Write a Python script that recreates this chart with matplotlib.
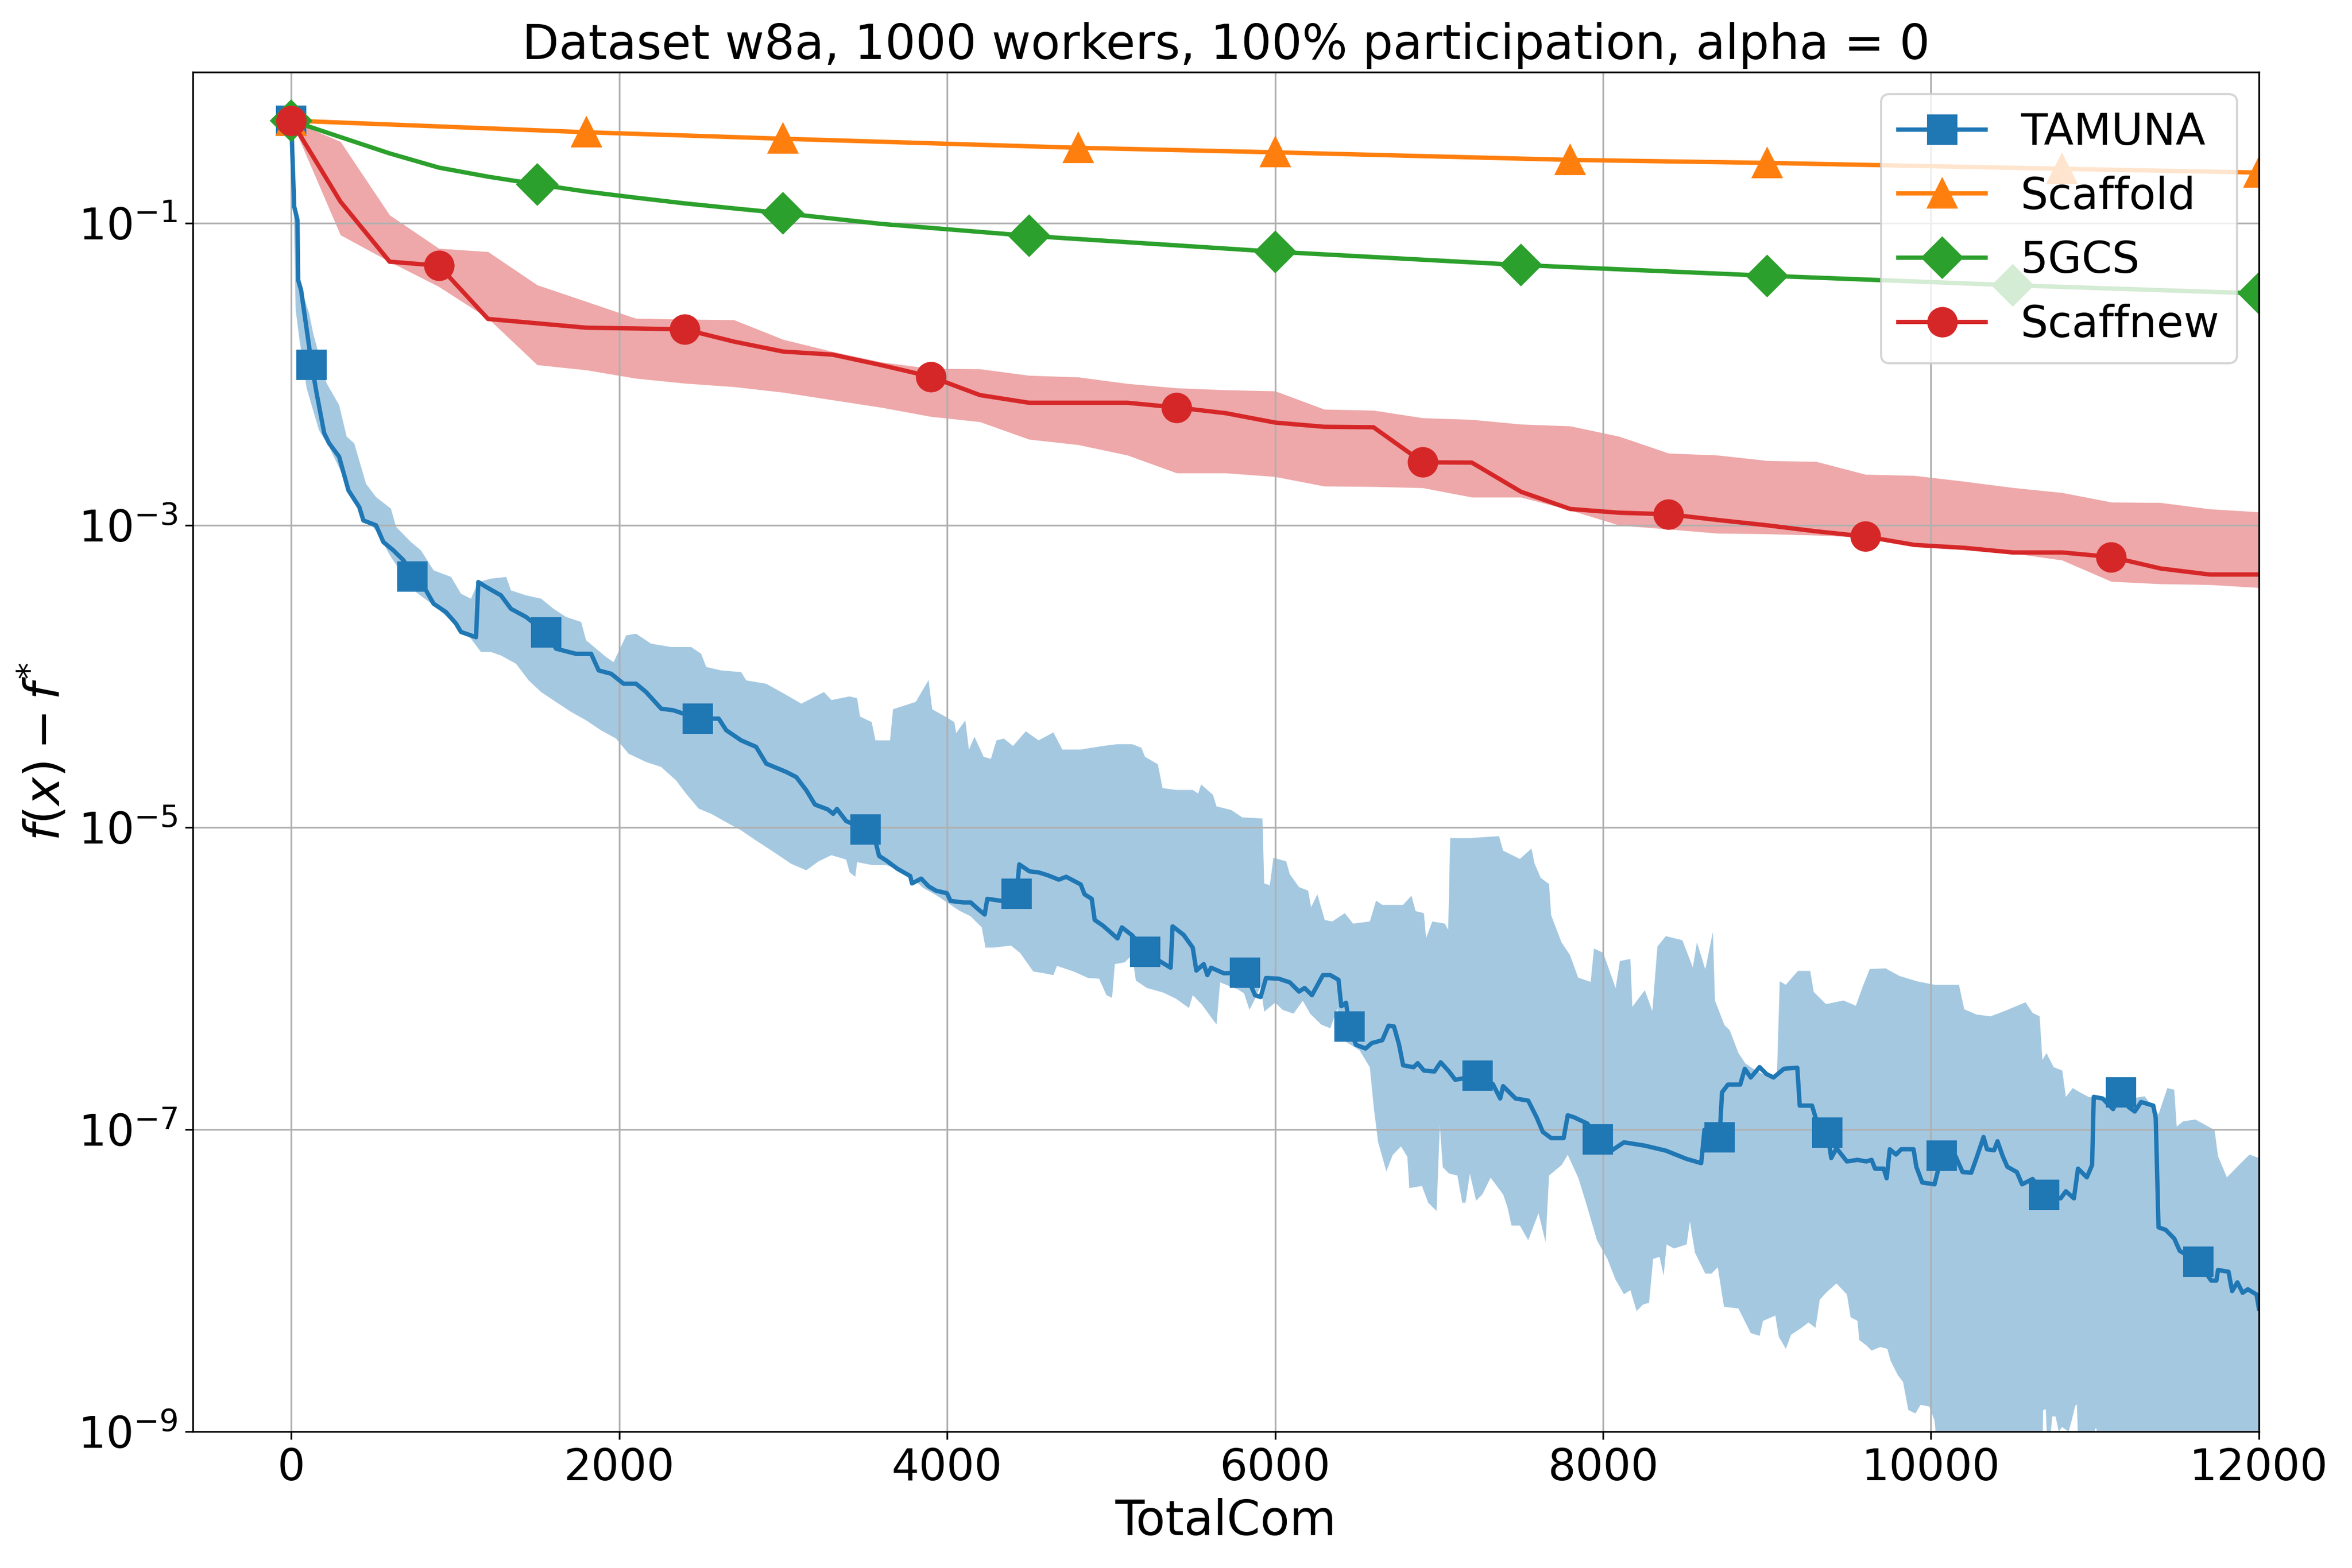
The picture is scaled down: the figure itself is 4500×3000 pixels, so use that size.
import numpy as np
import matplotlib
matplotlib.use("Agg")
import matplotlib.pyplot as plt
from matplotlib.ticker import NullLocator

# ---------------- data (y values stored as log10 of f(x)-f*) ----------------
title = "Dataset w8a, 1000 workers, 100% participation, alpha = 0"
xlabel = "TotalCom"
ylabel = r"$f(x) - f^{*}$"
labels = ["TAMUNA", "Scaffold", "5GCS", "Scaffnew"]
ytick_vals = [1e-9, 1e-7, 1e-5, 1e-3, 1e-1]

# TAMUNA mean curve (x, log10 value)
tamuna_mean_pts = [
    (0, -0.321), (18, -0.89), (38, -0.979), (42, -1.376), (60, -1.443), (125, -1.938),
    (155, -2.127), (201, -2.39), (231, -2.457), (292, -2.546), (349, -2.769), (415, -2.88),
    (440, -2.968), (517, -3.0), (562, -3.111), (623, -3.166), (685, -3.232), (740, -3.338),
    (822, -3.431), (868, -3.519), (944, -3.575), (1005, -3.651), (1035, -3.706), (1127, -3.741),
    (1141, -3.376), (1188, -3.408), (1279, -3.464), (1340, -3.553), (1432, -3.607), (1554, -3.711),
    (1615, -3.817), (1737, -3.851), (1829, -3.851), (1875, -3.961), (1951, -3.983), (2027, -4.049),
    (2103, -4.049), (2164, -4.104), (2256, -4.214), (2332, -4.225), (2479, -4.28), (2607, -4.28),
    (2653, -4.357), (2744, -4.424), (2835, -4.467), (2897, -4.578), (3019, -4.633), (3080, -4.667),
    (3141, -4.754), (3194, -4.849), (3272, -4.881), (3305, -4.91), (3328, -4.878), (3384, -4.958),
    (3501, -5.013), (3563, -5.092), (3585, -5.189), (3630, -5.22), (3697, -5.274), (3775, -5.322),
    (3786, -5.371), (3842, -5.339), (3887, -5.39), (3932, -5.419), (3999, -5.436), (4021, -5.487),
    (4100, -5.497), (4144, -5.497), (4189, -5.541), (4229, -5.577), (4245, -5.473), (4334, -5.487),
    (4424, -5.44), (4440, -5.245), (4502, -5.291), (4558, -5.298), (4614, -5.317), (4681, -5.346),
    (4726, -5.327), (4815, -5.378), (4838, -5.443), (4882, -5.473), (4900, -5.613), (4950, -5.65),
    (5039, -5.735), (5066, -5.662), (5129, -5.715), (5207, -5.825), (5308, -5.893), (5363, -5.929),
    (5375, -5.655), (5442, -5.711), (5498, -5.796), (5520, -5.948), (5565, -5.905), (5587, -5.978),
    (5610, -5.929), (5688, -5.966), (5818, -5.961), (5878, -6.111), (5912, -6.123), (5945, -5.997),
    (6023, -6.002), (6090, -6.026), (6146, -6.087), (6180, -6.063), (6225, -6.111), (6292, -5.978),
    (6337, -5.978), (6387, -6.009), (6404, -6.184), (6433, -6.161), (6453, -6.318), (6493, -6.439),
    (6552, -6.464), (6590, -6.428), (6654, -6.409), (6692, -6.313), (6725, -6.318), (6756, -6.437),
    (6781, -6.575), (6845, -6.588), (6870, -6.561), (6908, -6.61), (6972, -6.616), (7010, -6.555),
    (7061, -6.616), (7099, -6.671), (7236, -6.644), (7328, -6.699), (7373, -6.795), (7391, -6.713),
    (7467, -6.795), (7544, -6.809), (7595, -6.919), (7633, -7.016), (7684, -7.057), (7760, -7.057),
    (7785, -6.906), (7823, -6.919), (7905, -6.961), (7968, -7.066), (8052, -7.14), (8128, -7.085),
    (8255, -7.107), (8383, -7.14), (8510, -7.195), (8599, -7.223), (8619, -7.002), (8711, -7.052),
    (8726, -6.754), (8762, -6.703), (8837, -6.703), (8865, -6.598), (8901, -6.656), (8955, -6.587),
    (8997, -6.633), (9040, -6.656), (9104, -6.598), (9185, -6.591), (9200, -6.842), (9275, -6.842),
    (9300, -6.934), (9369, -7.02), (9392, -7.189), (9424, -7.124), (9488, -7.212), (9552, -7.201),
    (9606, -7.212), (9638, -7.201), (9659, -7.259), (9712, -7.259), (9730, -7.323), (9749, -7.131),
    (9787, -7.166), (9819, -7.131), (9894, -7.131), (9911, -7.247), (9947, -7.351), (10022, -7.363),
    (10066, -7.173), (10150, -7.177), (10193, -7.282), (10246, -7.286), (10278, -7.189), (10321, -7.05),
    (10342, -7.131), (10385, -7.138), (10406, -7.078), (10438, -7.177), (10466, -7.247), (10524, -7.282),
    (10556, -7.363), (10620, -7.328), (10692, -7.432), (10791, -7.456), (10823, -7.409), (10872, -7.456),
    (10897, -7.259), (10951, -7.317), (10983, -7.235), (10993, -6.784), (11047, -6.795), (11111, -6.865),
    (11160, -6.756), (11207, -6.853), (11243, -6.881), (11282, -6.818), (11356, -6.842), (11371, -6.923),
    (11388, -7.648), (11431, -7.664), (11484, -7.722), (11517, -7.803), (11630, -7.877), (11709, -8.0),
    (11741, -8.0), (11751, -7.93), (11815, -7.942), (11837, -8.07), (11869, -8.012), (11901, -8.081),
    (11933, -8.058), (11986, -8.093), (12000, -8.185),
]
tamuna_marker_x = [0, 125, 740, 1554, 2479, 3501, 4424, 5207, 5818, 6453, 7236, 7968,
                   8711, 9369, 10066, 10692, 11160, 11630]

# TAMUNA upper edge of the band
tamuna_upper_pts = [
    (0, -0.321), (20, -0.88), (40, -0.97), (50, -1.38), (80, -1.5), (109, -1.597), (134, -1.73),
    (216, -2.06), (292, -2.204), (338, -2.413), (384, -2.457), (456, -2.725), (517, -2.813),
    (608, -2.89), (639, -3.01), (730, -3.111), (791, -3.166), (868, -3.298), (975, -3.342),
    (1035, -3.453), (1096, -3.486), (1141, -3.376), (1218, -3.353), (1311, -3.342), (1340, -3.431),
    (1432, -3.464), (1524, -3.486), (1600, -3.553), (1676, -3.607), (1768, -3.64), (1798, -3.761),
    (1920, -3.872), (1966, -3.906), (2043, -3.729), (2103, -3.718), (2195, -3.784), (2317, -3.806),
    (2439, -3.806), (2500, -3.851), (2531, -3.938), (2622, -3.961), (2744, -3.972), (2775, -4.027),
    (2896, -4.049), (2988, -4.104), (3111, -4.181), (3249, -4.104), (3294, -4.157), (3406, -4.133),
    (3451, -4.145), (3469, -4.266), (3540, -4.303), (3563, -4.424), (3652, -4.424), (3670, -4.218),
    (3809, -4.169), (3887, -4.024), (3909, -4.218), (3988, -4.266), (4044, -4.303), (4055, -4.376),
    (4111, -4.291), (4133, -4.485), (4167, -4.4), (4223, -4.533), (4267, -4.546), (4301, -4.424),
    (4346, -4.412), (4402, -4.461), (4480, -4.364), (4558, -4.424), (4648, -4.371), (4703, -4.485),
    (4815, -4.485), (4882, -4.473), (4950, -4.461), (5039, -4.449), (5129, -4.449), (5185, -4.473),
    (5207, -4.533), (5285, -4.582), (5314, -4.74), (5397, -4.752), (5498, -4.752), (5531, -4.776),
    (5549, -4.716), (5621, -4.784), (5643, -4.861), (5733, -4.885), (5800, -4.934), (5923, -4.941),
    (5934, -5.371), (5968, -5.383), (5990, -5.201), (6068, -5.225), (6090, -5.31), (6146, -5.395),
    (6202, -5.419), (6220, -5.529), (6258, -5.443), (6303, -5.613), (6349, -5.623), (6425, -5.568),
    (6476, -5.637), (6578, -5.623), (6616, -5.485), (6654, -5.513), (6781, -5.513), (6832, -5.452),
    (6857, -5.554), (6908, -5.568), (6921, -5.733), (6959, -5.623), (7035, -5.637), (7056, -5.678),
    (7068, -5.071), (7188, -5.071), (7366, -5.058), (7391, -5.154), (7493, -5.209), (7564, -5.14),
    (7582, -5.237), (7620, -5.334), (7671, -5.375), (7684, -5.582), (7747, -5.761), (7798, -5.844),
    (7849, -5.995), (7925, -6.023), (7945, -5.802), (8001, -5.83), (8077, -6.064), (8103, -5.885),
    (8167, -5.871), (8179, -6.188), (8255, -6.078), (8301, -6.216), (8332, -5.789), (8383, -5.72),
    (8484, -5.747), (8548, -5.927), (8573, -5.761), (8624, -5.94), (8670, -5.692), (8683, -6.147),
    (8741, -6.309), (8773, -6.343), (8826, -6.494), (8869, -6.564), (8933, -6.61), (8997, -6.645),
    (9061, -6.633), (9078, -6.019), (9115, -6.042), (9189, -5.95), (9264, -5.95), (9285, -6.089),
    (9360, -6.17), (9467, -6.146), (9542, -6.181), (9584, -6.054), (9627, -5.938), (9723, -5.933),
    (9809, -5.984), (9915, -6.019), (10022, -6.042), (10171, -6.042), (10203, -6.204), (10278, -6.239),
    (10364, -6.251), (10449, -6.216), (10577, -6.158), (10620, -6.228), (10663, -6.251), (10680, -6.54),
    (10705, -6.494), (10748, -6.587), (10801, -6.61), (10823, -6.784), (10865, -6.726), (10919, -6.76),
    (10961, -6.784), (11036, -6.8), (11143, -6.75), (11196, -6.8), (11303, -6.78), (11388, -6.9),
    (11442, -6.726), (11484, -6.737), (11499, -6.981), (11538, -6.946), (11613, -6.934), (11730, -7.004),
    (11751, -7.177), (11805, -7.317), (11879, -7.235), (11943, -7.166), (12000, -7.189),
]

# TAMUNA lower edge of the band (-9.3 = below the axis floor)
tamuna_lower_pts = [
    (0, -0.321), (15, -0.9), (27, -1.575), (48, -1.752), (94, -2.093), (169, -2.37), (231, -2.48),
    (308, -2.656), (395, -2.835), (415, -2.92), (517, -3.034), (608, -3.21), (746, -3.431),
    (883, -3.541), (1005, -3.663), (1096, -3.751), (1157, -3.839), (1218, -3.839), (1279, -3.862),
    (1371, -3.917), (1448, -4.027), (1524, -4.104), (1615, -4.17), (1706, -4.235), (1798, -4.291),
    (1890, -4.358), (1981, -4.412), (2057, -4.512), (2164, -4.567), (2256, -4.6), (2347, -4.689),
    (2408, -4.777), (2485, -4.876), (2561, -4.91), (2653, -4.966), (2744, -5.02), (2835, -5.087),
    (2927, -5.152), (3049, -5.241), (3141, -5.284), (3216, -5.225), (3294, -5.184), (3384, -5.213),
    (3406, -5.298), (3440, -5.327), (3451, -5.23), (3540, -5.249), (3630, -5.25), (3751, -5.30),
    (3853, -5.40), (3935, -5.45), (4077, -5.553), (4144, -5.589), (4211, -5.662), (4234, -5.796),
    (4279, -5.796), (4390, -5.783), (4446, -5.832), (4525, -5.954), (4592, -5.966), (4648, -5.978),
    (4670, -5.917), (4771, -5.954), (4860, -5.997), (4927, -6.002), (4972, -6.111), (5006, -6.128),
    (5023, -5.905), (5084, -5.893), (5129, -5.844), (5151, -6.014), (5218, -6.063), (5319, -6.094),
    (5397, -6.135), (5475, -6.196), (5498, -6.111), (5553, -6.172), (5610, -6.257), (5643, -6.305),
    (5665, -6.026), (5777, -6.075), (5811, -6.099), (5844, -6.208), (5878, -6.135), (5912, -6.051),
    (5934, -6.22), (6001, -6.16), (6046, -6.208), (6113, -6.233), (6169, -6.147), (6214, -6.233),
    (6281, -6.305), (6337, -6.33), (6381, -6.196), (6404, -6.402), (6515, -6.475), (6578, -6.588),
    (6603, -6.864), (6629, -7.085), (6679, -7.278), (6718, -7.168), (6768, -7.112), (6807, -7.181),
    (6819, -7.388), (6896, -7.374), (6934, -7.485), (6985, -7.54), (7005, -6.974), (7023, -7.25),
    (7061, -7.292), (7112, -7.305), (7142, -7.485), (7162, -7.485), (7188, -7.292), (7226, -7.471),
    (7264, -7.43), (7315, -7.319), (7391, -7.43), (7417, -7.512), (7442, -7.636), (7493, -7.636),
    (7544, -7.733), (7607, -7.554), (7650, -7.747), (7671, -7.305), (7747, -7.236), (7785, -7.168),
    (7849, -7.319), (7900, -7.498), (7963, -7.733), (8027, -7.857), (8077, -7.995), (8128, -8.091),
    (8167, -8.064), (8205, -8.202), (8243, -8.16), (8281, -8.147), (8306, -7.857), (8345, -7.843),
    (8370, -7.968), (8388, -7.761), (8433, -7.788), (8510, -7.761), (8530, -7.609), (8561, -7.816),
    (8624, -7.954), (8662, -7.954), (8700, -7.912), (8738, -8.174), (8826, -8.185), (8869, -8.278),
    (8901, -8.348), (8955, -8.366), (8976, -8.267), (9051, -8.232), (9072, -8.371), (9115, -8.452),
    (9147, -8.359), (9211, -8.313), (9253, -8.278), (9296, -8.313), (9322, -8.127), (9360, -8.081),
    (9424, -8.019), (9488, -8.093), (9510, -8.243), (9552, -8.267), (9563, -8.394), (9606, -8.429),
    (9638, -8.464), (9691, -8.44), (9734, -8.452), (9755, -8.533), (9798, -8.626), (9830, -8.672),
    (9862, -8.857), (9905, -8.88), (9937, -8.823), (9990, -8.834), (10022, -8.927), (10054, -9.3),
    (10680, -9.3), (10684, -8.86), (10700, -8.85), (10715, -9.2), (10740, -8.90), (10760, -8.90),
    (10780, -9.0), (10800, -8.97), (10840, -9.0), (10860, -8.92), (10880, -8.83), (10890, -8.82),
    (10905, -9.3), (10990, -9.3), (11000, -8.98), (11010, -8.98), (11020, -9.3), (12000, -9.3),
]

# Scaffold
scaffold_x = [0, 1800, 3000, 4800, 6000, 7800, 9000, 10800, 12000]
scaffold_log10 = [-0.321, -0.398, -0.441, -0.501, -0.531, -0.581, -0.601, -0.64, -0.665]

# 5GCS
gcs_x = [0, 300, 600, 900, 1200, 1500, 1800, 2100, 2400, 2700, 3000, 3600, 4500, 6000,
         7500, 9000, 10500, 12000]
gcs_log10 = [-0.321, -0.43, -0.538, -0.632, -0.692, -0.743, -0.791, -0.831, -0.869, -0.902,
             -0.934, -1.005, -1.084, -1.189, -1.277, -1.348, -1.411, -1.465]
gcs_marker_x = [0, 1500, 3000, 4500, 6000, 7500, 9000, 10500, 12000]

# Scaffnew (mean, upper, lower), every 300 communications
scaffnew_x = list(range(0, 12001, 300))
scaffnew_mean_log10 = [
    -0.321, -0.857, -1.255, -1.281, -1.634, -1.663, -1.692, -1.697, -1.703, -1.784,
    -1.85, -1.87, -1.94, -2.016, -2.138, -2.189, -2.189, -2.189, -2.22, -2.258,
    -2.320, -2.348, -2.351, -2.583, -2.585, -2.778, -2.892, -2.917, -2.927, -2.965,
    -3.0, -3.04, -3.074, -3.13, -3.149, -3.18, -3.18, -3.21, -3.286, -3.326, -3.326,
]
scaffnew_upper_log10 = [
    -0.321, -0.46, -0.946, -1.167, -1.189, -1.409, -1.519, -1.63, -1.636, -1.64,
    -1.77, -1.85, -1.92, -1.962, -1.965, -2.008, -2.019, -2.062, -2.091, -2.104,
    -2.111, -2.232, -2.239, -2.289, -2.30, -2.331, -2.343, -2.412, -2.523, -2.536,
    -2.572, -2.578, -2.663, -2.671, -2.709, -2.751, -2.784, -2.847, -2.85, -2.892, -2.912,
]
scaffnew_lower_log10 = [
    -0.321, -1.078, -1.255, -1.42, -1.63, -1.938, -1.972, -2.027, -2.06, -2.083,
    -2.12, -2.17, -2.22, -2.28, -2.315, -2.431, -2.467, -2.536, -2.654, -2.654,
    -2.678, -2.741, -2.744, -2.752, -2.814, -2.814, -2.9, -3.0, -3.026, -3.053,
    -3.057, -3.066, -3.08, -3.135, -3.155, -3.185, -3.231, -3.372, -3.388, -3.393, -3.413,
]
scaffnew_marker_x = [0, 900, 2400, 3900, 5400, 6900, 8400, 9600, 11100]

# ---------------- figure ----------------
plt.rcParams['font.family'] = ['DejaVu Sans']
FS_TICK = 20
FS_LABEL = 22
MS = 13
LW = 2
c_blue, c_orange, c_green, c_red = '#1f77b4', '#ff7f0e', '#2ca02c', '#d62728'

fig, ax = plt.subplots(figsize=(15, 10), dpi=300)
fig.subplots_adjust(left=0.082, right=0.9604, bottom=0.087, top=0.954)


def unzip(pts):
    xs = np.array([p[0] for p in pts], dtype=float)
    ys = 10.0 ** np.array([p[1] for p in pts], dtype=float)
    return xs, ys


def idx_of(xs, marks):
    xs = list(xs)
    return [xs.index(m) for m in marks]


# TAMUNA
tx, ty = unzip(tamuna_mean_pts)
ux, uy = unzip(tamuna_upper_pts)
lx, ly = unzip(tamuna_lower_pts)
ax.plot(tx, ty, color=c_blue, lw=LW, marker='s', markersize=MS,
        markevery=idx_of(tx, tamuna_marker_x), label=labels[0])
ax.fill(np.concatenate([ux, lx[::-1]]), np.concatenate([uy, ly[::-1]]),
        color=c_blue, alpha=0.4, lw=0)

# Scaffold
ax.plot(scaffold_x, 10.0 ** np.array(scaffold_log10), color=c_orange, lw=LW,
        marker='^', markersize=MS, label=labels[1])

# 5GCS
ax.plot(gcs_x, 10.0 ** np.array(gcs_log10), color=c_green, lw=LW, marker='D',
        markersize=MS, markevery=idx_of(gcs_x, gcs_marker_x), label=labels[2])

# Scaffnew
sx = np.array(scaffnew_x, dtype=float)
ax.plot(sx, 10.0 ** np.array(scaffnew_mean_log10), color=c_red, lw=LW, marker='o',
        markersize=MS, markevery=idx_of(scaffnew_x, scaffnew_marker_x), label=labels[3])
ax.fill_between(sx, 10.0 ** np.array(scaffnew_lower_log10),
                10.0 ** np.array(scaffnew_upper_log10), color=c_red, alpha=0.4, lw=0)

ax.set_yscale('log')
ax.set_xlim(-600, 12000)
ax.set_ylim(1e-9, 1)
ax.set_yticks(ytick_vals)
ax.yaxis.set_minor_locator(NullLocator())
ax.tick_params(labelsize=FS_TICK)
ax.grid(True)
ax.set_title(title, fontsize=FS_LABEL)
ax.set_xlabel(xlabel, fontsize=FS_LABEL)
ax.set_ylabel(ylabel, fontsize=FS_LABEL)
ax.legend(loc='upper right', fontsize=FS_TICK)

fig.savefig("out.png", dpi=300)
